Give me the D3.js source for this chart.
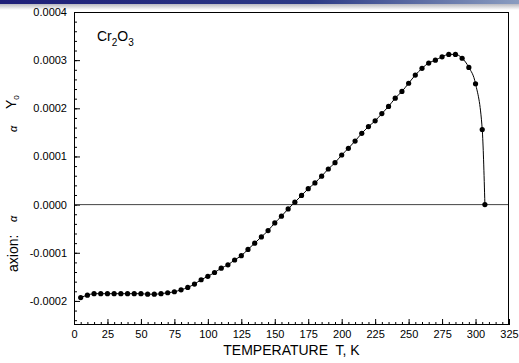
<!DOCTYPE html>
<html>
<head>
<meta charset="utf-8">
<script src="https://cdn.jsdelivr.net/npm/d3@7"></script>
<style>
	html, body {margin: 0; padding: 0; background: #fff;}
	svg {display: block; font-family: Arial, "Liberation Sans", sans-serif;}
</style>
</head>
<body>
<svg id="chart" width="519" height="363"></svg>
<script>
'use strict';

// Temperature, K.
var temps = [5, 10, 15, 20, 25, 30, 35, 40, 45, 50, 55, 60, 65, 70, 75, 80, 85, 90, 95, 100,
	105, 110, 115, 120, 125, 130, 135, 140, 145, 150, 155, 160, 165, 170, 175, 180, 185, 190, 195, 200,
	205, 210, 215, 220, 225, 230, 235, 240, 245, 250, 255, 260, 265, 270, 275, 280, 285, 290, 295, 300,
	305, 307];
// axion alpha Y0.
var alphaY0 = [-0.000193, -0.000188, -0.000185, -0.000185, -0.000185, -0.000185, -0.000185, -0.000185, -0.000185, -0.000185,
	-0.000186, -0.000186, -0.000185, -0.000183, -0.000181, -0.000177, -0.000172, -0.000165, -0.000156, -0.000149,
	-0.000141, -0.000132, -0.000125, -0.000115, -0.000106, -0.000093, -0.000080, -0.000067, -0.000054, -0.000038,
	-0.000024, -0.000009, 0.000005, 0.000019, 0.000033, 0.000045, 0.000059, 0.000074, 0.000087, 0.000103,
	0.000117, 0.000132, 0.000148, 0.000162, 0.000174, 0.000189, 0.000204, 0.000221, 0.000235, 0.000252,
	0.000269, 0.000283, 0.000294, 0.000300, 0.000307, 0.000312, 0.000312, 0.000304, 0.000285, 0.000251,
	0.000156, 0];

var xTicks = d3.range(0, 326, 25);
var xMinor = d3.range(0, 326, 5);
var yTicks = [-0.0002, -0.0001, 0, 0.0001, 0.0002, 0.0003, 0.0004];
var yMinor = d3.range(-12, 21).map(function(i) {return i * 0.00002;});

(function() {
	var svg = d3.select('#chart');
	var mLeft = 74, mRight = 509, mTop = 12, mBottom = 325;
	var font = 'Arial, "Liberation Sans", sans-serif';

	// Header band (slide chrome).
	var defs = svg.append('defs');
	var hg = defs.append('linearGradient').attr('id', 'hdr');
	hg.append('stop').attr('offset', '0%').attr('stop-color', '#1e1e78');
	hg.append('stop').attr('offset', '60%').attr('stop-color', '#2c3a86');
	hg.append('stop').attr('offset', '100%').attr('stop-color', '#8a9cc0');
	var sg = defs.append('linearGradient').attr('id', 'shd')
		.attr('x1', 0).attr('x2', 0).attr('y1', 0).attr('y2', 1);
	sg.append('stop').attr('offset', '0%').attr('stop-color', '#b8b8c0');
	sg.append('stop').attr('offset', '100%').attr('stop-color', '#ffffff');
	svg.append('rect').attr('x', 0).attr('y', 0).attr('width', 519).attr('height', 4).attr('fill', 'url(#hdr)');
	svg.append('rect').attr('x', 0).attr('y', 4).attr('width', 519).attr('height', 6).attr('fill', 'url(#shd)');

	var x = d3.scaleLinear().domain([0, 325]).range([mLeft, mRight]);
	var y = d3.scaleLinear().domain([-0.00025, 0.0004]).range([mBottom, mTop]);

	function fmt(d) {
		return Math.abs(d) < 1e-12 ? '0.0000' : d.toFixed(4);}

	// Axes: ticks point inward.
	var xAxis = svg.append('g').attr('transform', 'translate(0,' + mBottom + ')');
	xAxis.call(d3.axisBottom(x).tickValues(xMinor).tickSizeInner(-3).tickSizeOuter(0).tickFormat(''));
	xAxis.select('.domain').remove();
	xAxis.selectAll('line').attr('stroke', '#000');
	var xMajor = svg.append('g').attr('transform', 'translate(0,' + mBottom + ')');
	xMajor.call(d3.axisBottom(x).tickValues(xTicks).tickSizeInner(-6).tickSizeOuter(0).tickPadding(5)
		.tickFormat(d3.format('d')));
	xMajor.select('.domain').remove();
	xMajor.selectAll('line').attr('stroke', '#000');
	xMajor.selectAll('text').attr('font-size', 11).attr('font-family', font).attr('fill', '#000');

	var yAxis = svg.append('g').attr('transform', 'translate(' + mLeft + ',0)');
	yAxis.call(d3.axisLeft(y).tickValues(yMinor).tickSizeInner(-3).tickSizeOuter(0).tickFormat(''));
	yAxis.select('.domain').remove();
	yAxis.selectAll('line').attr('stroke', '#000');
	var yMajor = svg.append('g').attr('transform', 'translate(' + mLeft + ',0)');
	yMajor.call(d3.axisLeft(y).tickValues(yTicks).tickSizeInner(-6).tickSizeOuter(0).tickPadding(7).tickFormat(fmt));
	yMajor.select('.domain').remove();
	yMajor.selectAll('line').attr('stroke', '#000');
	yMajor.selectAll('text').attr('font-size', 11).attr('font-family', font).attr('fill', '#000');

	// Zero line.
	svg.append('line')
		.attr('x1', mLeft).attr('x2', mRight)
		.attr('y1', y(0)).attr('y2', y(0))
		.attr('stroke', '#444').attr('stroke-width', 1);

	// Frame.
	svg.append('rect')
		.attr('x', mLeft + 0.5).attr('y', mTop + 0.5)
		.attr('width', mRight - mLeft - 1).attr('height', mBottom - mTop - 1)
		.attr('fill', 'none').attr('stroke', '#000').attr('stroke-width', 1);

	var pts = temps.map(function(t, i) {return [t, alphaY0[i]];});

	svg.append('path')
		.datum(pts)
		.attr('fill', 'none')
		.attr('stroke', '#000')
		.attr('stroke-width', 1)
		.attr('d', d3.line()
			.x(function(d) {return x(d[0]);})
			.y(function(d) {return y(d[1]);})
			.curve(d3.curveMonotoneX));

	svg.selectAll('.pt').data(pts)
		.enter().append('circle')
		.attr('class', 'pt')
		.attr('cx', function(d) {return x(d[0]);})
		.attr('cy', function(d) {return y(d[1]);})
		.attr('r', 2.6)
		.attr('fill', '#000');

	// Compound label.
	var comp = svg.append('text')
		.attr('x', 97).attr('y', 41)
		.attr('font-size', 14).attr('fill', '#000');
	comp.append('tspan').text('Cr');
	comp.append('tspan').attr('font-size', 10).attr('dy', 5).text('2');
	comp.append('tspan').attr('dy', -5).text('O');
	comp.append('tspan').attr('font-size', 10).attr('dy', 5).text('3');

	// X axis title.
	svg.append('text')
		.attr('x', (mLeft + mRight) / 2).attr('y', 355)
		.attr('text-anchor', 'middle')
		.attr('font-size', 14).attr('fill', '#000')
		.style('white-space', 'pre')
		.text('TEMPERATURE  T, K');

	// Y axis title, rotated.
	svg.append('text')
		.attr('transform', 'translate(18,272)rotate(-90)')
		.attr('font-size', 14).attr('fill', '#000')
		.text('axion:');
	svg.append('text')
		.attr('transform', 'translate(17,222)rotate(-90)')
		.attr('font-size', 11).attr('font-style', 'italic').attr('fill', '#000')
		.text('\u03b1');
	svg.append('text')
		.attr('transform', 'translate(17,132)rotate(-90)')
		.attr('font-size', 11).attr('font-style', 'italic').attr('fill', '#000')
		.text('\u03b1');
	var yl = svg.append('text')
		.attr('transform', 'translate(16,109)rotate(-90)')
		.attr('font-size', 14).attr('fill', '#000');
	yl.append('tspan').text('Y');
	yl.append('tspan').attr('font-size', 8).attr('dy', 3).text('0');
})();
</script>
</body>
</html>
